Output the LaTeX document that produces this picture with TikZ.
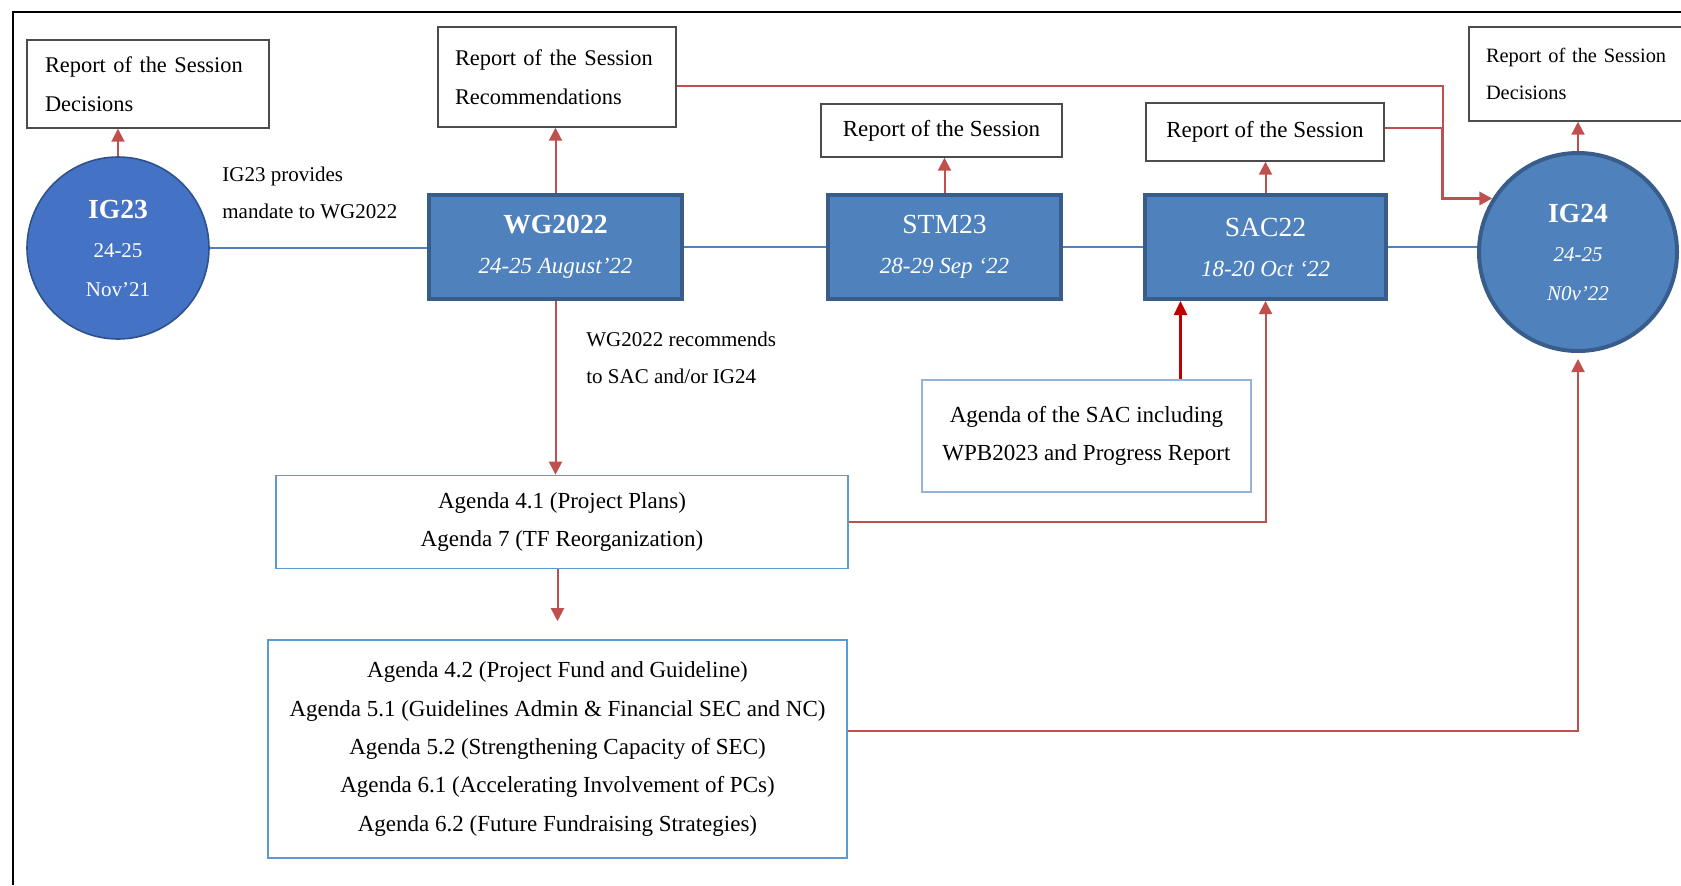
\documentclass[tikz,border=0pt]{standalone}
\usepackage{fontspec}
\setmainfont{Liberation Serif}
\usetikzlibrary{positioning}
\usetikzlibrary{arrows.meta}
\definecolor{boxblue}{HTML}{4F81BD}
\definecolor{boxedge}{HTML}{385D8A}
\definecolor{circblue}{HTML}{4472C4}
\definecolor{circedge}{HTML}{2F528F}
\definecolor{arrred}{HTML}{C0504D}
\definecolor{arrdark}{HTML}{C00000}
\definecolor{agedge}{HTML}{5B9BD5}
\definecolor{agedgel}{HTML}{95B3D7}
\tikzset{
    meetbox/.style = {rectangle, draw=boxedge, line width=2pt, fill=boxblue, text=white, align=center, minimum height=52pt, font=\fontsize{11.5}{20}\selectfont},
    meetcirc/.style = {circle, draw=circedge, line width=0.8pt, fill=circblue, text=white, align=center, inner sep=0pt, font=\fontsize{10.5}{19.5}\selectfont},
    reportbox/.style = {rectangle, draw=black!70, line width=0.7pt, fill=white, font=\fontsize{11.2}{19.3}\selectfont},
    agendabox/.style = {rectangle, draw=agedge, line width=0.8pt, align=center, font=\fontsize{11.5}{19}\selectfont},
    plaintext/.style = {align=left, inner sep=0pt, font=\fontsize{10.5}{18.5}\selectfont},
    edger/.style = {-{Triangle[length=6.5pt,width=6.5pt]}, line width=1pt, arrred},
    edgerd/.style = {-{Triangle[length=7pt,width=6.5pt]}, line width=1.3pt, arrdark}, % SAC agenda
    edgeb/.style = {line width=0.7pt, boxblue}
}
\newcommand{\bigtitle}[1]{{\fontsize{13.8}{20}\selectfont #1}}

\begin{document}
\begin{tikzpicture}[x=0.5pt, y=-0.5pt]
  \useasboundingbox (0,0) rectangle (1681,885);
  \draw[line width=0.8pt] (13,885) -- (13,12) -- (1681,12);

  % meetings
  \node[meetcirc, minimum size=91pt] (ig23) at (118,248) {\bigtitle{\bfseries IG23}\\24-25\\Nov’21};
  \node[meetbox, minimum width=126.5pt] (wg) at (555.5,247) {\bigtitle{\bfseries WG2022}\\\textit{24-25 August’22}};
  \node[meetbox, minimum width=116.5pt] (stm) at (944.5,247) {\bigtitle{STM23}\\\textit{28-29 Sep ‘22}};
  \node[meetbox, minimum width=120.5pt] (sac) at (1265.5,247) {\bigtitle{SAC22}\\\textit{18-20 Oct ‘22}};
  \node[meetcirc, fill=boxblue, draw=boxedge, line width=2pt, minimum size=99pt] (ig24) at (1578,252) {\bigtitle{\bfseries IG24}\\\textit{24-25}\\\textit{N0v’22}};

  % reports
  \node[reportbox, align=left, text width=103pt, inner xsep=9pt, minimum height=44pt] (rep1) at (148,84) {Report of the Session\\Decisions};
  \node[reportbox, align=left, text width=102pt, inner xsep=8.5pt, minimum height=50pt] (rep2) at (557,77) {Report of the Session\\Recommendations};
  \node[reportbox, minimum width=120.5pt, minimum height=26.5pt, font=\fontsize{11.5}{19}\selectfont] (rep3) at (941.5,130.5) {Report of the Session};
  \node[reportbox, minimum width=119pt, minimum height=29pt, font=\fontsize{11.5}{19}\selectfont] (rep4) at (1265,132) {Report of the Session};
  \node[reportbox, align=left, text width=103pt, inner xsep=8.5pt, minimum height=47pt, font=\fontsize{10.2}{18.5}\selectfont] (rep5) at (1589,74) {Report of the Session\\Decisions};

  % agendas
  \node[agendabox, minimum width=286pt, minimum height=46.5pt] (ag41) at (562,522) {Agenda 4.1 (Project Plans)\\Agenda 7 (TF Reorganization)};
  \node[agendabox, minimum width=289.5pt, minimum height=109pt, font=\fontsize{11.5}{19.2}\selectfont] (ag42) at (557.5,749) {Agenda 4.2 (Project Fund and Guideline)\\Agenda 5.1 (Guidelines Admin \& Financial SEC and NC)\\Agenda 5.2 (Strengthening Capacity of SEC)\\Agenda 6.1 (Accelerating Involvement of PCs)\\Agenda 6.2 (Future Fundraising Strategies)};
  \node[agendabox, draw=agedgel, minimum width=164.5pt, minimum height=56pt] (sacag) at (1086.5,436) {Agenda of the SAC including\\WPB2023 and Progress Report};

  \node[plaintext, anchor=west] (mandate) at (222,193) {IG23 provides\\mandate to WG2022};
  \node[plaintext, anchor=west] (recomm) at (586,358) {WG2022 recommends\\to SAC and/or IG24};

  % time line
  \draw[edgeb] (ig23.east) -- (ig23.east -| wg.west);
  \draw[edgeb] (wg.east) -- (stm.west);
  \draw[edgeb] (stm.east) -- (sac.west);
  \draw[edgeb] (sac.east) -- (sac.east -| ig24.west);

  \draw[edger] (ig23.north) -- (ig23.north |- rep1.south);
  \draw[edger] (wg.north) -- (wg.north |- rep2.south);
  \draw[edger] (stm.north) -- (stm.north |- rep3.south);
  \draw[edger] (sac.north) -- (sac.north |- rep4.south);
  \draw[edger] (ig24.north) -- (ig24.north |- rep5.south);

  \path (rep4.east) ++(58,-4) coordinate (join);
  \draw[arrred, line width=1pt] ([yshift=-4.5pt]rep2.east) -| (join);
  \draw[arrred, line width=1pt] ([yshift=2pt]rep4.east) -- (join);
  \draw[edger, line width=1.6pt] (join) |- (ig24.148);

  \draw[edger] (wg.south) -- (wg.south |- ag41.north);
  \draw[edger, shorten >=9pt] (ag41.south -| ag42.north) -- (ag42.north);
  \draw[edger] (ag41.east) -| (sac.south);
  \coordinate (sacin) at ([xshift=47pt]sacag.north);
  \draw[edgerd] (sacin) -- (sacin |- sac.south);
  \draw[edger, shorten >=3pt] ([yshift=9pt]ag42.east) -| (ig24.south);
\end{tikzpicture}
\end{document}
